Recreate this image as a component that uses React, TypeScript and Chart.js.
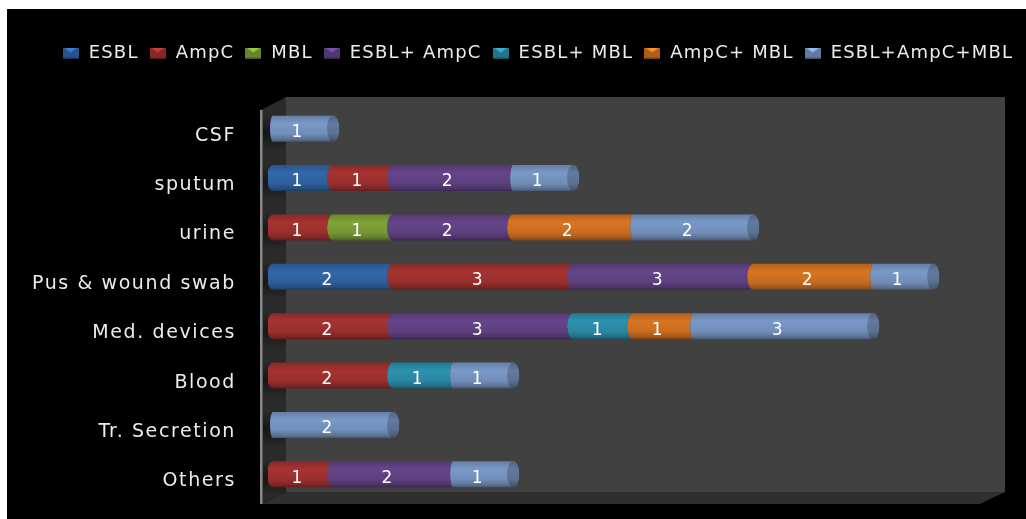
import React, { useEffect, useRef } from "react";
import { Chart, registerables, BarElement } from "chart.js";

Chart.register(...registerables);

const categories = ["CSF", "sputum", "urine", "Pus & wound swab", "Med. devices", "Blood", "Tr. Secretion", "Others"];
const seriesNames = ["ESBL", "AmpC", "MBL", "ESBL+ AmpC", "ESBL+ MBL", "AmpC+ MBL", "ESBL+AmpC+MBL"];
const esbl = [0, 1, 0, 2, 0, 0, 0, 0];
const ampC = [0, 1, 1, 3, 2, 2, 0, 1];
const mbl = [0, 0, 1, 0, 0, 0, 0, 0];
const esblAmpC = [0, 2, 2, 3, 3, 0, 0, 2];
const esblMbl = [0, 0, 0, 0, 1, 1, 0, 0];
const ampCMbl = [0, 0, 2, 2, 1, 0, 0, 0];
const allThree = [1, 1, 2, 1, 3, 1, 2, 1];
const seriesValues = [esbl, ampC, mbl, esblAmpC, esblMbl, ampCMbl, allThree];
const seriesColors = ["#2f619f", "#9c302e", "#789a36", "#5f4182", "#2a8aa5", "#cc6e20", "#7390bc"];

const TEXT = "#ececec";
const FONT = "DejaVu Sans";
const LEGEND_SPACING = "1.2px";
const TICK_SPACING = "1.6px";
const SHIFT = 5;
const RX = 6;

function shade(hex: string, f: number): string {
  const n = parseInt(hex.slice(1), 16);
  const c = [(n >> 16) & 255, (n >> 8) & 255, n & 255].map((v) => Math.min(255, Math.round(v * f)));
  return `rgb(${c[0]},${c[1]},${c[2]})`;
}

function cylinderFill(ctx: CanvasRenderingContext2D, color: string, top: number, bottom: number, k = 1) {
  const g = ctx.createLinearGradient(0, top, 0, bottom);
  g.addColorStop(0, shade(color, 0.88 * k));
  g.addColorStop(0.3, shade(color, 1.06 * k));
  g.addColorStop(0.7, shade(color, 0.98 * k));
  g.addColorStop(0.9, shade(color, 0.8 * k));
  g.addColorStop(1, shade(color, 0.6 * k));
  return g;
}

const leftRadius = (ds: number) => (ds === 6 ? 3 : RX);

// Stacked bars are painted as cylinders from the geometry the bar controller computed.
BarElement.prototype.draw = function (this: any, ctx: CanvasRenderingContext2D) {
  const { x, base, y, height } = this.getProps(["x", "base", "y", "height"], true);
  if (Math.abs(x - base) < 0.5) return;
  const datasetIndex = this.seriesIndex;
  const dataIndex = this.categoryIndex;
  const color = seriesColors[datasetIndex];
  const top = y - height / 2;
  const bottom = y + height / 2;
  const ry = height / 2;
  const x0 = base + SHIFT;
  const x1 = x + SHIFT;
  let next = -1;
  for (let i = datasetIndex + 1; i < seriesValues.length; i++) {
    if (seriesValues[i][dataIndex]) {
      next = i;
      break;
    }
  }
  ctx.save();
  ctx.fillStyle = cylinderFill(ctx, color, top, bottom);
  ctx.beginPath();
  ctx.moveTo(x0, top);
  ctx.lineTo(x1, top);
  if (next >= 0) ctx.ellipse(x1, y, leftRadius(next), ry, 0, -Math.PI / 2, Math.PI / 2, true);
  else ctx.ellipse(x1, y, RX, ry, 0, -Math.PI / 2, Math.PI / 2, false);
  ctx.lineTo(x0, bottom);
  ctx.ellipse(x0, y, leftRadius(datasetIndex), ry, 0, Math.PI / 2, Math.PI * 1.5, false);
  ctx.closePath();
  ctx.fill();
  if (next < 0) {
    ctx.fillStyle = cylinderFill(ctx, color, top, bottom, 0.8);
    ctx.beginPath();
    ctx.ellipse(x1, y, RX, ry, 0, 0, Math.PI * 2);
    ctx.fill();
  }
  ctx.restore();
};

function markerFor(color: string): HTMLCanvasElement {
  const c = document.createElement("canvas");
  c.width = 16;
  c.height = 11;
  const g = c.getContext("2d")!;
  g.fillStyle = shade(color, 0.85);
  g.fillRect(0, 0, 16, 11);
  g.fillStyle = shade(color, 1.3);
  g.beginPath();
  g.moveTo(1, 0);
  g.lineTo(15, 0);
  g.lineTo(8, 5);
  g.closePath();
  g.fill();
  g.fillStyle = shade(color, 0.6);
  g.fillRect(0, 10, 16, 1);
  return c;
}

const spacingPlugin = {
  id: "spacing",
  beforeLayout(chart: any) {
    chart.ctx.letterSpacing = LEGEND_SPACING;
  },
  beforeDraw(chart: any) {
    chart.ctx.letterSpacing = TICK_SPACING;
    const legend = chart.legend;
    if (legend && !legend.spacingWrapped) {
      const draw = legend.draw;
      legend.draw = function (...args: any[]) {
        chart.ctx.letterSpacing = LEGEND_SPACING;
        draw.apply(this, args);
        chart.ctx.letterSpacing = TICK_SPACING;
      };
      legend.spacingWrapped = true;
    }
  },
};

const wallsPlugin = {
  id: "walls",
  beforeDatasetsDraw(chart: any) {
    const { ctx, chartArea: a, scales } = chart;
    seriesValues.forEach((_, ds) => {
      chart.getDatasetMeta(ds).data.forEach((el: any, i: number) => {
        el.seriesIndex = ds;
        el.categoryIndex = i;
      });
    });
    const L = a.left - 7;
    const backL = L + 25;
    const backR = L + 744;
    const backT = a.top - 7;
    const backB = backT + 395;
    const frontB = backB + 12;
    const frontR = backR - 25;
    const poly = (pts: number[][], fill: string) => {
      ctx.fillStyle = fill;
      ctx.beginPath();
      pts.forEach((p, i) => (i ? ctx.lineTo(p[0], p[1]) : ctx.moveTo(p[0], p[1])));
      ctx.closePath();
      ctx.fill();
    };
    ctx.save();
    poly([[backL, backT], [backR, backT], [backR, backB], [backL, backB]], "#414141");
    poly([[L, backT + 13], [backL, backT], [backL, backB], [L, frontB]], "#2a2a2a");
    categories.forEach((_, i) => {
      const cy = scales.y.getPixelForValue(i);
      const g = ctx.createLinearGradient(0, cy - 14, 0, cy + 22);
      g.addColorStop(0, "rgba(20,20,20,0)");
      g.addColorStop(0.5, "rgba(20,20,20,0.9)");
      g.addColorStop(1, "rgba(20,20,20,0)");
      ctx.fillStyle = g;
      ctx.fillRect(L + 2, cy - 14, 23, 36);
    });
    poly([[L, frontB], [backL, backB], [backR, backB], [frontR, frontB]], "#2f2f2f");
    ctx.fillStyle = "#8a8a8a";
    ctx.fillRect(L - 1, backT + 13, 2.5, frontB - backT - 13);
    ctx.restore();
  },
};

const valueLabelsPlugin = {
  id: "valueLabels",
  afterDatasetsDraw(chart: any) {
    const { ctx } = chart;
    ctx.save();
    ctx.letterSpacing = "0px";
    ctx.fillStyle = "#ffffff";
    ctx.font = `17px "${FONT}"`;
    ctx.textAlign = "center";
    ctx.textBaseline = "middle";
    seriesValues.forEach((vals, ds) => {
      chart.getDatasetMeta(ds).data.forEach((el: any, i: number) => {
        if (vals[i]) ctx.fillText(String(vals[i]), (el.x + el.base) / 2 - 1, el.y + 4);
      });
    });
    ctx.restore();
  },
};

export default function App() {
  const ref = useRef<HTMLCanvasElement>(null);
  useEffect(() => {
    const chart = new Chart(ref.current!, {
      type: "bar",
      data: {
        labels: categories,
        datasets: seriesNames.map((label, i) => ({
          label,
          data: seriesValues[i],
          backgroundColor: seriesColors[i],
          barThickness: 26,
        })),
      },
      options: {
        indexAxis: "y",
        animation: false,
        responsive: false,
        devicePixelRatio: 1,
        layout: { padding: { top: 25, left: 42, right: 0, bottom: 20 } },
        plugins: {
          tooltip: { enabled: false },
          legend: {
            position: "top",
            labels: {
              color: TEXT,
              font: { family: FONT, size: 18 },
              padding: 10,
              usePointStyle: true,
              generateLabels: () =>
                seriesNames.map((text, i) => ({
                  text,
                  fontColor: TEXT,
                  fillStyle: seriesColors[i],
                  strokeStyle: "transparent",
                  lineWidth: 0,
                  pointStyle: markerFor(seriesColors[i]),
                  datasetIndex: i,
                })),
            },
          },
        },
        scales: {
          x: {
            position: "top",
            stacked: true,
            min: 0,
            max: 12.63,
            grid: { display: false },
            border: { display: false },
            ticks: { display: false },
            afterFit: (s: any) => {
              s.height = 32;
            },
          },
          y: {
            stacked: true,
            grid: { display: false, drawTicks: false },
            border: { display: false },
            ticks: {
              color: TEXT,
              font: { family: FONT, size: 19 },
              padding: 32,
              labelOffset: 7,
              autoSkip: false,
            },
            afterFit: (s: any) => {
              s.width = 219;
              s.paddingTop = 0;
              s.paddingBottom = 0;
              // the long labels reach past the axis box, into the left layout padding
              s._computeLabelArea = () => undefined;
            },
          },
        },
      } as any,
      plugins: [spacingPlugin, wallsPlugin, valueLabelsPlugin],
    });
    return () => chart.destroy();
  }, []);
  return (
    <div style={{ position: "absolute", left: 7, top: 9, width: 1019, height: 510, background: "#000", overflow: "hidden" }}>
      <canvas ref={ref} width={1019} height={510} style={{ display: "block" }} />
    </div>
  );
}
